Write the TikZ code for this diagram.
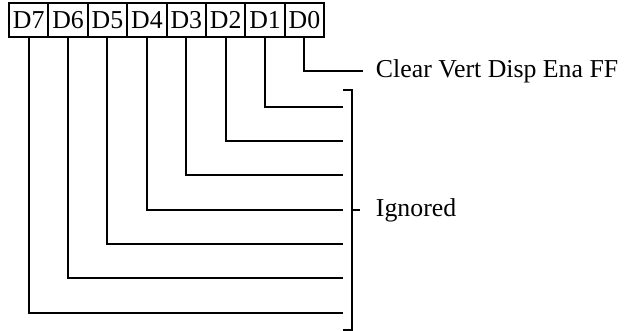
\documentclass[tikz,border=0pt]{standalone}
\usepackage{fontspec}
\setmainfont{Liberation Serif}

\begin{document}
\begin{tikzpicture}[x=0.5pt, y=-0.5pt, line width=1pt,   %Koordinaten in Pixeln
					bit/.style={draw, minimum width=19.7pt, minimum height=17pt, inner sep=0pt},
					lbl/.style={anchor=west, inner sep=0pt},
					font=\fontsize{12.9}{15}\selectfont]
					\useasboundingbox (0,0) rectangle (634,331);
					% Register
					\foreach \i in {0,...,7}
						\node[bit] (d\i) at ({9+39.4*(7.5-\i)},20) {D\i};
					\node[lbl] (clear) at (375,71) {Clear Vert Disp Ena FF};
					\node[lbl] (ignored) at (375,210) {Ignored};
					\draw (d0.south) |- ([xshift=-6pt]clear.west);
					% ignorierte Bits
					\foreach \i/\y in {1/107, 2/141, 3/175, 4/210, 5/244, 6/278, 7/313}{
						\coordinate (e\i) at (343,\y);
						\draw (d\i.south) |- (e\i);
					}
					\coordinate (brtop) at (352,90);
					\coordinate (brbot) at (352,330);
					\draw (343,90) -- (brtop) -- (brbot) -- (343,330);
					\draw (352,210) -- ([xshift=-7.5pt]ignored.west);
				\end{tikzpicture}
\end{document}
